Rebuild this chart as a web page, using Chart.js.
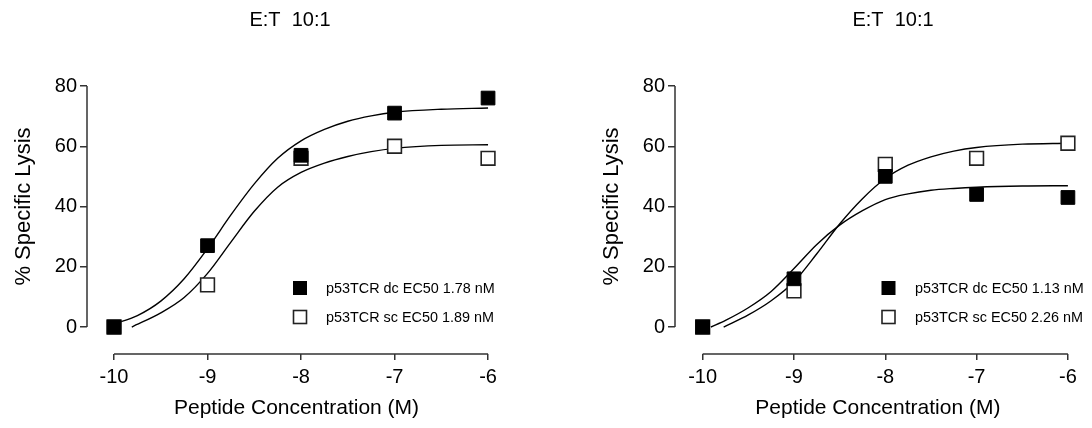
<!DOCTYPE html>
<html>
<head>
<meta charset="utf-8">
<script src="https://cdn.jsdelivr.net/npm/chart.js@4.4.0/dist/chart.umd.min.js"></script>
<style>
  html, body { margin: 0; padding: 0; background: #fff; }
  #wrap { display: flex; width: 1092px; height: 428px; }
  canvas { display: block; }
</style>
</head>
<body>
<div id="wrap">
  <canvas id="left" width="546" height="428"></canvas>
  <canvas id="right" width="546" height="428"></canvas>
</div>
<script>
var doses = [-10, -9, -8, -7, -6];
var xTicks = [-10, -9, -8, -7, -6];
var yTicks = [0, 20, 40, 60, 80];
var chartTitle = 'E:T  10:1';
var xTitle = 'Peptide Concentration (M)';
var yTitle = '% Specific Lysis';

// left panel
var leftLabels = ['p53TCR dc EC50 1.78 nM', 'p53TCR sc EC50 1.89 nM'];
var leftDc = [0, 27, 57, 71, 76];
var leftSc = [0, 14, 56, 60, 56];
// fitted curves
var leftDcFitX = [-10, -9.75, -9.5, -9.25, -9, -8.75, -8.5, -8.25, -8, -7.75, -7.5, -7.25, -7, -6.5, -6];
var leftDcFitY = [1.0, 3.8, 8.6, 16.0, 26.0, 37.2, 47.5, 56.0, 61.8, 65.6, 68.3, 70.1, 71.3, 72.3, 72.7];
var leftScFitX = [-9.81, -9.5, -9.25, -9, -8.75, -8.5, -8.25, -8, -7.75, -7.5, -7.25, -7, -6.5, -6];
var leftScFitY = [0, 4.7, 9.8, 17.8, 28.2, 38.4, 46.4, 51.3, 54.4, 56.6, 58.2, 59.3, 60.3, 60.5];

// right panel
var rightLabels = ['p53TCR dc EC50 1.13 nM', 'p53TCR sc EC50 2.26 nM'];
var rightDc = [0, 16, 50, 44, 43];
var rightSc = [0, 12, 54, 56, 61];
var rightDcFitX = [-9.91, -9.75, -9.5, -9.25, -9, -8.75, -8.5, -8.25, -8, -7.75, -7.5, -7.25, -7, -6.5, -6];
var rightDcFitY = [0, 2.2, 6.4, 11.8, 19.4, 27.4, 33.8, 38.6, 42.3, 44.2, 45.4, 46.0, 46.4, 46.8, 46.9];
var rightScFitX = [-9.77, -9.5, -9.25, -9, -8.75, -8.5, -8.25, -8, -7.75, -7.5, -7.25, -7, -6.5, -6];
var rightScFitY = [0, 4.0, 8.7, 15.0, 24.3, 34.2, 42.6, 49.3, 53.7, 56.5, 58.4, 59.6, 60.7, 61];

var FONT = "'Liberation Sans', Arial, sans-serif";

function pairs(xs, ys) {
    return xs.map(function (x, i) { return { x: x, y: ys[i] }; });
}

// axis lines only over the tick range, titles and the inset legend
var decor = {
    id: 'decor',
    beforeDatasetsDraw: function (chart, args, o) {
        var c = chart.ctx;
        var xs = chart.scales.x, ys = chart.scales.y;
        var ax = chart.chartArea.left, ay = chart.chartArea.bottom;
        c.save();
        c.strokeStyle = '#333';
        c.lineWidth = 1.5;
        c.beginPath();
        c.moveTo(ax, ys.getPixelForValue(yTicks[0]));
        c.lineTo(ax, ys.getPixelForValue(yTicks[yTicks.length - 1]));
        c.moveTo(xs.getPixelForValue(xTicks[0]), ay);
        c.lineTo(xs.getPixelForValue(xTicks[xTicks.length - 1]), ay);
        c.stroke();

        c.fillStyle = '#000';
        c.textAlign = 'center';
        c.textBaseline = 'middle';
        c.font = '20px ' + FONT;
        c.fillText(chartTitle, o.titleX, 20);

        var midY = (ys.getPixelForValue(yTicks[0]) + ys.getPixelForValue(yTicks[yTicks.length - 1])) / 2;
        c.translate(o.yTitleX, midY);
        c.rotate(-Math.PI / 2);
        c.font = '22px ' + FONT;
        c.fillText(yTitle, 0, 0);
        c.restore();
    },
    afterDatasetsDraw: function (chart, args, o) {
        var c = chart.ctx;
        c.save();
        c.font = '14.4px ' + FONT;
        c.textBaseline = 'middle';
        c.textAlign = 'left';
        for (var i = 0; i < 2; i++) {
            var ds = chart.data.datasets[i];
            var y = o.legendY[i];
            var s = 13;
            c.fillStyle = ds.backgroundColor;
            c.strokeStyle = ds.borderColor;
            c.lineWidth = ds.borderWidth;
            c.fillRect(o.legendX - s / 2, y - s / 2, s, s);
            c.strokeRect(o.legendX - s / 2, y - s / 2, s, s);
            c.fillStyle = '#000';
            c.fillText(ds.label, o.textX, y + 1);
        }
        c.restore();
    }
};

function buildPanel(id, p) {
    var ctx = document.getElementById(id).getContext('2d');
    return new Chart(ctx, {
        type: 'scatter',
        data: {
            datasets: [{
                label: p.labels[0],
                data: pairs(doses, p.dc),
                pointStyle: 'rect',
                pointRadius: 9.7,
                backgroundColor: '#000',
                borderColor: '#000',
                borderWidth: 1,
                clip: false
            }, {
                label: p.labels[1],
                data: pairs(doses, p.sc),
                pointStyle: 'rect',
                pointRadius: 9.7,
                backgroundColor: '#fff',
                borderColor: '#222',
                borderWidth: 1.6,
                clip: false
            }, {
                type: 'line',
                data: pairs(p.dcFitX, p.dcFitY),
                borderColor: '#000',
                borderWidth: 1.4,
                pointRadius: 0,
                cubicInterpolationMode: 'monotone',
                fill: false
            }, {
                type: 'line',
                data: pairs(p.scFitX, p.scFitY),
                borderColor: '#000',
                borderWidth: 1.4,
                pointRadius: 0,
                cubicInterpolationMode: 'monotone',
                fill: false
            }]
        },
        options: {
            responsive: false,
            animation: false,
            events: [],
            layout: { padding: { top: 86, right: p.padRight, bottom: 0, left: 0 } },
            scales: {
                x: {
                    type: 'linear',
                    min: p.xMin,
                    max: p.xMax,
                    afterBuildTicks: function (s) { s.ticks = xTicks.map(function (v) { return { value: v }; }); },
                    afterFit: function (s) { s.height = 74; },
                    border: { display: false },
                    grid: { drawOnChartArea: false, tickLength: 6, color: '#333', lineWidth: 1.5 },
                    ticks: {
                        font: { family: FONT, size: 20 },
                        color: '#000',
                        padding: 5,
                        maxRotation: 0,
                        autoSkip: false,
                        callback: function (v) { return String(v); }
                    },
                    title: {
                        display: true,
                        text: xTitle,
                        color: '#000',
                        font: { family: FONT, size: 21, lineHeight: 1.2 },
                        padding: { top: 0, bottom: 7 }
                    }
                },
                y: {
                    min: -8.96,
                    max: 80,
                    afterBuildTicks: function (s) { s.ticks = yTicks.map(function (v) { return { value: v }; }); },
                    afterFit: function (s) { s.width = p.axisX; },
                    border: { display: false },
                    grid: { drawOnChartArea: false, tickLength: 7, color: '#333', lineWidth: 1.5 },
                    ticks: {
                        font: { family: FONT, size: 20 },
                        color: '#000',
                        padding: 3,
                        callback: function (v) { return String(v); }
                    }
                }
            },
            plugins: {
                legend: { display: false },
                tooltip: { enabled: false },
                decor: p.decor
            }
        },
        plugins: [decor]
    });
}

buildPanel('left', {
    labels: leftLabels, dc: leftDc, sc: leftSc,
    dcFitX: leftDcFitX, dcFitY: leftDcFitY, scFitX: leftScFitX, scFitY: leftScFitY,
    axisX: 87, padRight: 40, xMin: -10.289, xMax: -5.808,
    decor: { titleX: 290, yTitleX: 24, legendX: 300, textX: 326, legendY: [288, 317] }
});

buildPanel('right', {
    labels: rightLabels, dc: rightDc, sc: rightSc,
    dcFitX: rightDcFitX, dcFitY: rightDcFitY, scFitX: rightScFitX, scFitY: rightScFitY,
    axisX: 129, padRight: 2, xMin: -10.303, xMax: -5.86,
    decor: { titleX: 347, yTitleX: 66, legendX: 342.5, textX: 369, legendY: [288, 317] }
});
</script>
</body>
</html>
